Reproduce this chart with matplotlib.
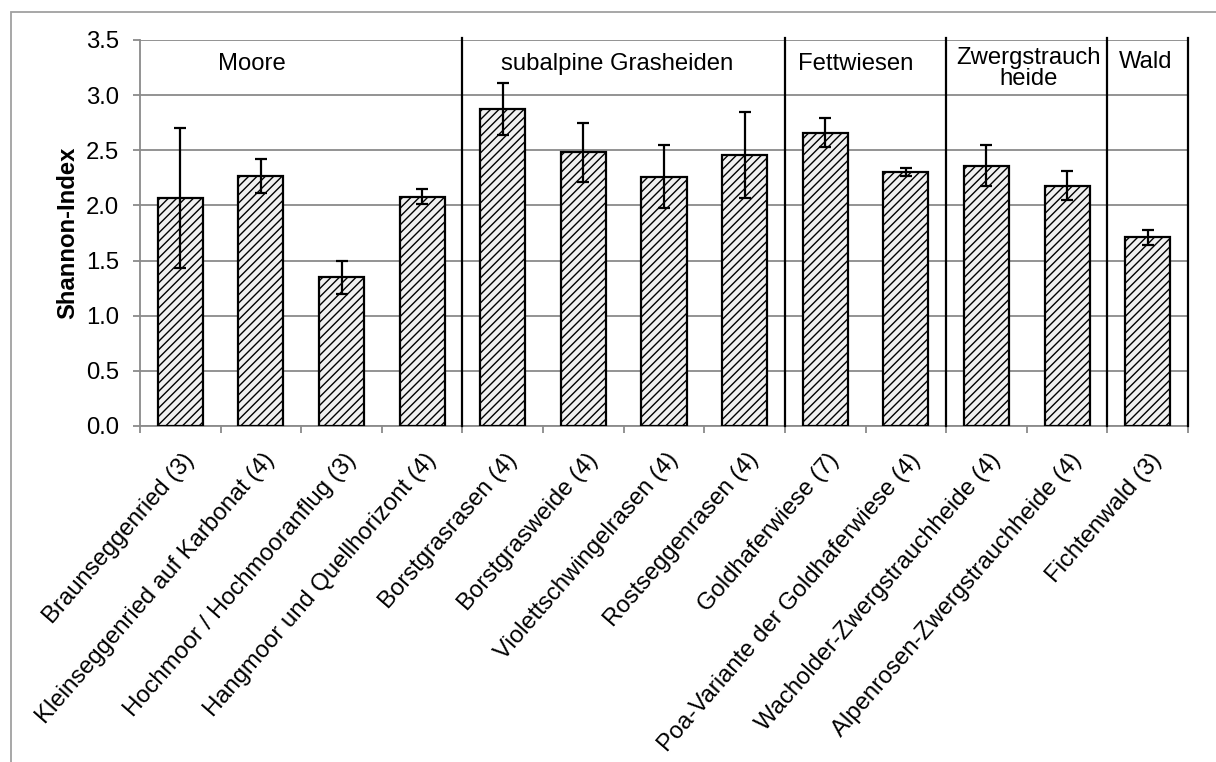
import matplotlib
matplotlib.use("Agg")
import matplotlib.pyplot as plt
import matplotlib.transforms as mtransforms
from matplotlib.patches import Rectangle

plt.rcParams["font.family"] = ["Liberation Sans", "DejaVu Sans"]
plt.rcParams["hatch.linewidth"] = 1.0
plt.rcParams["hatch.color"] = "#333333"

# Vegetation types (number of plots in brackets)
categories = [
    "Braunseggenried (3)",
    "Kleinseggenried auf Karbonat (4)",
    "Hochmoor / Hochmooranflug (3)",
    "Hangmoor und Quellhorizont (4)",
    "Borstgrasrasen (4)",
    "Borstgrasweide (4)",
    "Violettschwingelrasen (4)",
    "Rostseggenrasen (4)",
    "Goldhaferwiese (7)",
    "Poa-Variante der Goldhaferwiese (4)",
    "Wacholder-Zwergstrauchheide (4)",
    "Alpenrosen-Zwergstrauchheide (4)",
    "Fichtenwald (3)",
]
shannon_mean = [2.07, 2.27, 1.35, 2.08, 2.875, 2.48, 2.26, 2.46, 2.66, 2.30, 2.36, 2.18, 1.71]
shannon_err = [0.635, 0.155, 0.15, 0.065, 0.235, 0.27, 0.285, 0.39, 0.13, 0.035, 0.185, 0.135, 0.07]

# Vegetation groups: label and number of categories in each
group_names = ["Moore", "subalpine Grasheiden", "Fettwiesen", "Zwergstrauch\nheide", "Wald"]
group_sizes = [4, 4, 2, 2, 1]
group_label_x = [0.89, 5.42, 8.38, 10.52, 11.97]
group_label_y = [3.28, 3.28, 3.28, 3.245, 3.30]

yticks = [0.0, 0.5, 1.0, 1.5, 2.0, 2.5, 3.0, 3.5]

FS = 17.2
GRID = "#8a8a8a"

fig = plt.figure(figsize=(12.16, 7.62), dpi=100)
ax = fig.add_axes([140 / 1216, 1 - 426 / 762, 1048 / 1216, 386 / 762])

# outer chart frame
fig.add_artist(Rectangle((11 / 1216, -0.1), 1.2, 1 - 12 / 762 + 0.1,
                         transform=fig.transFigure, fill=False,
                         edgecolor="#a0a0a0", linewidth=1.3))

x = list(range(len(categories)))
ax.bar(x, shannon_mean, width=0.56, facecolor="#f0f0f0", edgecolor="black",
       linewidth=1.6, hatch="////", zorder=3)
ax.errorbar(x, shannon_mean, yerr=shannon_err, fmt="none", ecolor="black",
            elinewidth=1.6, capsize=4.6, capthick=1.6, zorder=4)

ax.set_xlim(-0.5, len(categories) - 0.5)
ax.set_ylim(0, 3.5)
ax.set_yticks(yticks)
ax.set_yticklabels([f"{v:.1f}" for v in yticks], fontsize=FS)
ax.yaxis.grid(True, color=GRID, linewidth=1.3, zorder=0)
ax.set_axisbelow(True)

# ticks on category boundaries, labels drawn separately
ax.set_xticks([i - 0.5 for i in range(len(categories) + 1)])
ax.set_xticklabels([])
ax.tick_params(axis="x", length=5, width=1.3, color=GRID, direction="out")
ax.tick_params(axis="y", length=5, width=1.3, color=GRID, direction="out", pad=10)

for side in ("top", "right"):
    ax.spines[side].set_visible(False)
for side in ("left", "bottom"):
    ax.spines[side].set_color(GRID)
    ax.spines[side].set_linewidth(1.3)

# category labels, rotated
off = mtransforms.ScaledTranslation(2 / 100, -23 / 100, fig.dpi_scale_trans)
trans = mtransforms.blended_transform_factory(ax.transData, ax.transAxes) + off
for i, name in enumerate(categories):
    ax.text(i, 0, name, transform=trans, rotation=49, rotation_mode="anchor",
            ha="right", va="top", fontsize=FS)

# group separators and group names
bounds = []
pos = -0.5
for n in group_sizes:
    pos += n
    bounds.append(pos)
for b in bounds:
    ax.plot([b, b], [0, 3.52], color="black", linewidth=1.6, clip_on=False, zorder=5)
for name, gx, gy in zip(group_names, group_label_x, group_label_y):
    ax.text(gx, gy, name, ha="center", va="center", fontsize=FS, linespacing=0.95)

ax.set_ylabel("Shannon-Index", fontsize=FS, fontweight="bold", va="center")
ax.yaxis.set_label_coords(-72 / 1048, 0.5)

fig.savefig("out.png", dpi=100)
